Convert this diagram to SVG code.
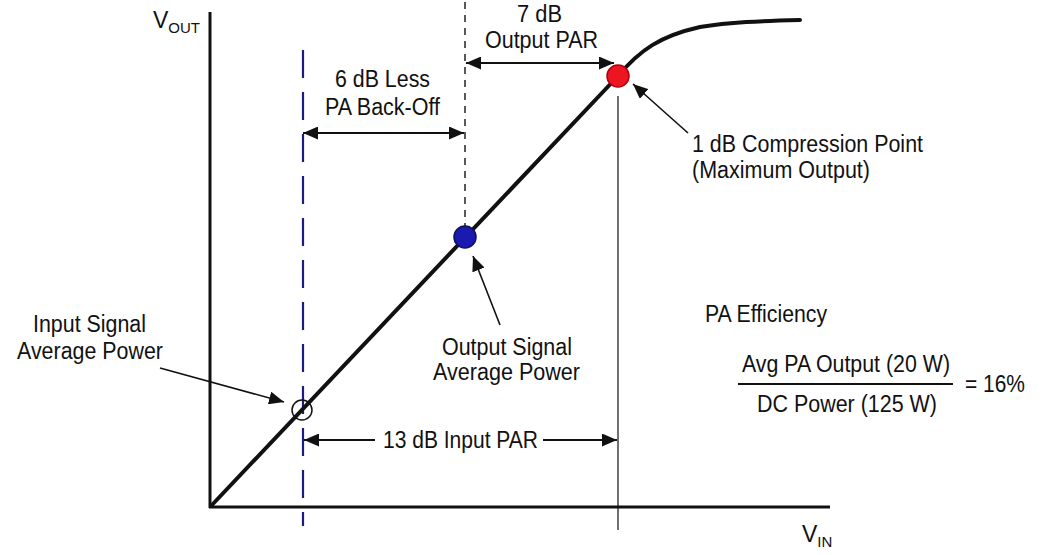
<svg xmlns="http://www.w3.org/2000/svg" width="1043" height="555" viewBox="0 0 1043 555">
<style>
text{font-family:"Liberation Sans",Arial,sans-serif;font-size:23px;fill:#111;}
.sub{font-size:15px;}
.ax{stroke:#111;stroke-width:3;fill:none;}
.curve{stroke:#111;stroke-width:4;fill:none;stroke-linecap:round;}
.dim{stroke:#111;stroke-width:2;fill:none;}
.ptr{stroke:#111;stroke-width:1.6;fill:none;}
</style>
<defs>
<marker id="ah" viewBox="0 0 15 13" refX="15" refY="6.5" markerWidth="15" markerHeight="13" markerUnits="userSpaceOnUse" orient="auto-start-reverse"><path d="M0,0 L15,6.5 L0,13 z" fill="#111"/></marker>
</defs>
<rect width="1043" height="555" fill="#fff"/>
<g id="axes">
<line class="ax" x1="210" y1="12" x2="210" y2="508"/>
<line class="ax" x1="209" y1="507" x2="830" y2="507"/>
<text x="153" y="28">V<tspan class="sub" dy="5">OUT</tspan></text>
<text x="802" y="542">V<tspan class="sub" dy="5">IN</tspan></text>
</g>
<g id="guides">
<line x1="303" y1="50" x2="303" y2="526" stroke="#1c1c80" stroke-width="2.2" stroke-dasharray="28,14"/>
<line x1="465" y1="2" x2="465" y2="228" stroke="#222" stroke-width="1.5" stroke-dasharray="7,6"/>
<line x1="618" y1="96" x2="618" y2="530" stroke="#111" stroke-width="1.2"/>
</g>
<g id="transfer-curve">
<path class="curve" d="M211,506 L618,76 C640,50 660,36 700,27 C730,22 760,21 800,20"/>
</g>
<g id="connectors">
<line class="dim" x1="303" y1="133" x2="464" y2="133" marker-start="url(#ah)" marker-end="url(#ah)"/>
<line class="dim" x1="466" y1="63" x2="614" y2="63" marker-start="url(#ah)" marker-end="url(#ah)"/>
<line class="dim" x1="304" y1="440" x2="375" y2="440" marker-start="url(#ah)"/>
<line class="dim" x1="543" y1="440" x2="617" y2="440" marker-end="url(#ah)"/>
<line class="ptr" x1="160" y1="368" x2="284" y2="402" marker-end="url(#ah)"/>
<line class="ptr" x1="500" y1="325" x2="473" y2="256" marker-end="url(#ah)"/>
<line class="ptr" x1="688" y1="133" x2="633" y2="84" marker-end="url(#ah)"/>
</g>
<g id="input-avg-point">
<circle cx="302" cy="410" r="10" fill="none" stroke="#111" stroke-width="1.5"/>
</g>
<g id="output-avg-point">
<circle cx="465" cy="237" r="11" fill="#1a1ab0" stroke="#101060" stroke-width="1.5"/>
</g>
<g id="compression-point">
<circle cx="618" cy="76" r="11" fill="#ee1522" stroke="#b00010" stroke-width="1.5"/>
</g>
<g id="labels">
<text x="33" y="332" textLength="113" lengthAdjust="spacingAndGlyphs">Input Signal</text>
<text x="17" y="359" textLength="146" lengthAdjust="spacingAndGlyphs">Average Power</text>
<text x="442" y="355" textLength="130" lengthAdjust="spacingAndGlyphs">Output Signal</text>
<text x="433" y="380" textLength="147" lengthAdjust="spacingAndGlyphs">Average Power</text>
<text x="383" y="448" textLength="155" lengthAdjust="spacingAndGlyphs">13 dB Input PAR</text>
<text x="335" y="87" textLength="95" lengthAdjust="spacingAndGlyphs">6 dB Less</text>
<text x="325" y="115" textLength="115" lengthAdjust="spacingAndGlyphs">PA Back-Off</text>
<text x="517" y="22" textLength="45" lengthAdjust="spacingAndGlyphs">7 dB</text>
<text x="485" y="48" textLength="113" lengthAdjust="spacingAndGlyphs">Output PAR</text>
<text x="692" y="152" textLength="231" lengthAdjust="spacingAndGlyphs">1 dB Compression Point</text>
<text x="692" y="178" textLength="178" lengthAdjust="spacingAndGlyphs">(Maximum Output)</text>
</g>
<g id="efficiency">
<text x="705" y="322" textLength="122" lengthAdjust="spacingAndGlyphs">PA Efficiency</text>
<text x="742" y="372" textLength="208" lengthAdjust="spacingAndGlyphs">Avg PA Output (20 W)</text>
<line x1="738" y1="384" x2="953" y2="384" stroke="#111" stroke-width="2"/>
<text x="757" y="412" textLength="180" lengthAdjust="spacingAndGlyphs">DC Power (125 W)</text>
<text x="965" y="392" textLength="60" lengthAdjust="spacingAndGlyphs">= 16%</text>
</g>
</svg>
